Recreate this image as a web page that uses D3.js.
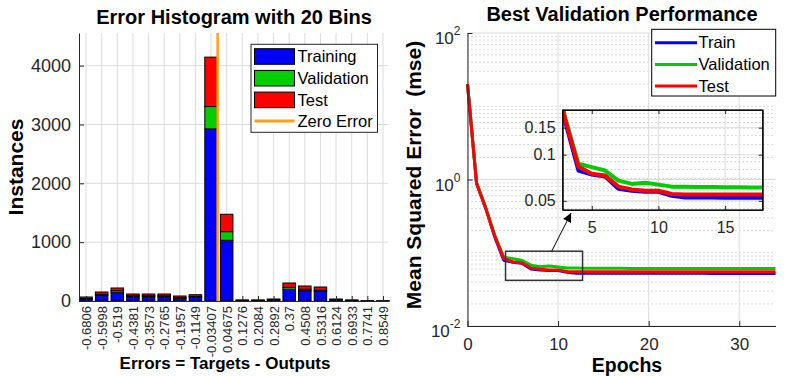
<!DOCTYPE html>
<html>
<head>
<meta charset="utf-8">
<script src="https://cdn.jsdelivr.net/npm/d3@7/dist/d3.min.js"></script>
<style>
  body { margin: 0; background: #fff; }
  svg { display: block; font-family: "Liberation Sans", Arial, sans-serif; }
</style>
</head>
<body>
<svg id="chart" width="803" height="376"></svg>
<script>
// ─── Histogram data (20 bins, stacked Training / Validation / Test) ───
const binCenters = [-0.6806, -0.5998, -0.519, -0.4381, -0.3573, -0.2765, -0.1957, -0.1149, -0.03407, 0.04675,
                    0.1276, 0.2084, 0.2892, 0.37, 0.4508, 0.5316, 0.6124, 0.6933, 0.7741, 0.8549];
const binLabels = ['-0.6806', '-0.5998', '-0.519', '-0.4381', '-0.3573', '-0.2765', '-0.1957', '-0.1149', '-0.03407', '0.04675',
                   '0.1276', '0.2084', '0.2892', '0.37', '0.4508', '0.5316', '0.6124', '0.6933', '0.7741', '0.8549'];
const trainCounts = [30, 97, 141, 73, 73, 73, 46, 63, 2925, 1032, 10, 10, 20, 199, 175, 165, 20, 10, 3, 2];
const valCounts   = [13, 17, 34, 16, 16, 16, 13, 15, 380, 147, 3, 3, 5, 34, 25, 20, 5, 3, 0, 0];
const testCounts  = [25, 39, 46, 30, 30, 30, 26, 29, 840, 295, 4, 4, 9, 73, 55, 53, 9, 4, 1, 1];
const histXLim = [-0.717, 0.881];
const histYLim = [0, 4555];
const histYTicks = [0, 1000, 2000, 3000, 4000];

// ─── Performance data (mse per epoch) ───
const epochs = [0, 1, 2, 3, 4, 5, 6, 7, 8, 9, 10, 11, 12, 13, 14, 15, 16, 17,
                18, 19, 20, 21, 22, 23, 24, 25, 26, 27, 28, 29, 30, 31, 32, 33, 34];
const trainPerf = [20, 0.89, 0.41, 0.165, 0.0788, 0.0742, 0.072, 0.060, 0.0582, 0.0573, 0.0573, 0.054, 0.0526, 0.0525, 0.0525, 0.0524, 0.0524, 0.0524,
                   0.0524, 0.0524, 0.0523, 0.0523, 0.0523, 0.0523, 0.0523, 0.0523, 0.0523, 0.0522, 0.0522, 0.0522, 0.0522, 0.0522, 0.0522, 0.0522, 0.0522];
const valPerf   = [20, 0.9, 0.42, 0.175, 0.0872, 0.0829, 0.0788, 0.0678, 0.0645, 0.0657, 0.0638, 0.0619, 0.0617, 0.0616, 0.0615, 0.0614, 0.0613, 0.0612,
                   0.0611, 0.0611, 0.061, 0.061, 0.061, 0.061, 0.061, 0.061, 0.061, 0.061, 0.061, 0.061, 0.061, 0.061, 0.061, 0.061, 0.061];
const testPerf  = [20, 0.88, 0.41, 0.17, 0.0838, 0.075, 0.0731, 0.0619, 0.0594, 0.0582, 0.0582, 0.0554, 0.0551, 0.055, 0.055, 0.055, 0.055, 0.055,
                   0.055, 0.055, 0.0549, 0.0549, 0.0549, 0.0549, 0.0549, 0.0549, 0.0549, 0.0549, 0.0549, 0.0549, 0.0549, 0.0549, 0.0549, 0.0549, 0.0549];
const perfXLim = [0, 34];
const perfYLim = [0.01, 100];
const perfXTicks = [0, 10, 20, 30];
const perfYMajor = [0.01, 1, 100];
const insetXLim = [2.82, 17.82];
const insetYLim = [0.0436, 0.1955];
const insetXTicks = [5, 10, 15];
const insetYTicks = [0.05, 0.1, 0.15];
const zoomBox = { x: [4.2, 12.7], y: [0.042, 0.105] };

const seriesNames = ['Training', 'Validation', 'Test'];
const perfNames = ['Train', 'Validation', 'Test'];
const colors = ['#0000ff', '#00cc00', '#ff0000'];
const ZERO_COLOR = '#ffa010';
const TICK = '#262626';
const GRID = '#dcdcdc';
const MINOR = '#b4b4b4';

const svg = d3.select('#chart');

function styleAxis(g, size) {
    g.select('.domain').attr('stroke', TICK).attr('stroke-width', 1);
    g.selectAll('.tick line').attr('stroke', TICK);
    g.selectAll('.tick text').attr('fill', TICK).style('font-size', size + 'px');
}

// ═══════════════ Left: Error histogram ═══════════════
const hx = d3.scaleLinear().domain(histXLim).range([79, 388]);
const hy = d3.scaleLinear().domain(histYLim).range([301, 33]);
const left = svg.append('g');

// grid
left.append('g').selectAll('line').data(binCenters).join('line')
    .attr('x1', d => hx(d)).attr('x2', d => hx(d))
    .attr('y1', hy.range()[1]).attr('y2', hy.range()[0])
    .attr('stroke', GRID);
left.append('g').selectAll('line').data(histYTicks).join('line')
    .attr('x1', hx.range()[0]).attr('x2', hx.range()[1])
    .attr('y1', d => hy(d)).attr('y2', d => hy(d))
    .attr('stroke', GRID);

// stacked bars
const rows = binCenters.map((c, i) => ({ center: c, train: trainCounts[i], val: valCounts[i], test: testCounts[i] }));
const stack = d3.stack().keys(['train', 'val', 'test'])(rows);
const binStep = binCenters[1] - binCenters[0];
const barW = hx(histXLim[0] + binStep * 0.8) - hx(histXLim[0]);

left.append('g').selectAll('g').data(stack).join('g')
    .attr('fill', (d, i) => colors[i])
    .selectAll('rect').data(d => d).join('rect')
    .attr('x', d => hx(d.data.center) - barW / 2)
    .attr('width', barW)
    .attr('y', d => hy(d[1]))
    .attr('height', d => hy(d[0]) - hy(d[1]))
    .attr('stroke', '#000')
    .attr('stroke-width', 1);

// zero error line
left.append('line')
    .attr('x1', hx(0)).attr('x2', hx(0))
    .attr('y1', hy.range()[1]).attr('y2', hy.range()[0])
    .attr('stroke', ZERO_COLOR).attr('stroke-width', 2.5);

// axes
left.append('g')
    .attr('transform', `translate(${hx.range()[0]},0)`)
    .call(d3.axisLeft(hy).tickValues(histYTicks).tickFormat(d3.format('d')).tickSizeInner(-5).tickSizeOuter(0).tickPadding(8))
    .call(g => styleAxis(g, 18));

const hxAxis = left.append('g')
    .attr('transform', `translate(0,${hy.range()[0]})`)
    .call(d3.axisBottom(hx).tickValues(binCenters).tickFormat((d, i) => binLabels[i]).tickSizeInner(-5).tickSizeOuter(0))
    .call(g => styleAxis(g, 13));
hxAxis.selectAll('.tick text')
    .attr('transform', 'rotate(-90)')
    .attr('text-anchor', 'end')
    .attr('x', -5).attr('y', 0).attr('dy', '0.35em');

// legend
const hLeg = left.append('g');
hLeg.append('rect')
    .attr('x', 251).attr('y', 44.3).attr('width', 126.5).attr('height', 88)
    .attr('fill', '#fff').attr('stroke', TICK);
seriesNames.forEach((name, i) => {
    const cy = 56.5 + i * 21.7;
    hLeg.append('rect')
        .attr('x', 254.5).attr('y', cy - 7.8).attr('width', 40).attr('height', 15.6)
        .attr('fill', colors[i]).attr('stroke', '#000');
    hLeg.append('text')
        .attr('x', 297.5).attr('y', cy).attr('dy', '0.35em')
        .style('font-size', '16.5px').text(name);
});
hLeg.append('line')
    .attr('x1', 254.5).attr('x2', 294.5).attr('y1', 121).attr('y2', 121)
    .attr('stroke', ZERO_COLOR).attr('stroke-width', 3);
hLeg.append('text')
    .attr('x', 297.5).attr('y', 121).attr('dy', '0.35em')
    .style('font-size', '16.5px').text('Zero Error');

// labels
left.append('text')
    .attr('x', 234).attr('y', 24).attr('text-anchor', 'middle')
    .style('font-size', '20px').style('font-weight', 'bold')
    .text('Error Histogram with 20 Bins');
left.append('text')
    .attr('x', 225).attr('y', 369).attr('text-anchor', 'middle')
    .style('font-size', '17px').style('font-weight', 'bold')
    .text('Errors = Targets - Outputs');
left.append('text')
    .attr('transform', 'translate(22.5,167) rotate(-90)')
    .attr('text-anchor', 'middle')
    .style('font-size', '21px').style('font-weight', 'bold')
    .text('Instances');

// ═══════════════ Right: performance ═══════════════
const mx = d3.scaleLinear().domain(perfXLim).range([467.5, 775.5]);
const my = d3.scaleLog().domain(perfYLim).range([326, 33]);
const right = svg.append('g');

// minor (dotted) grid
const minorY = my.ticks().filter(v => !perfYMajor.some(m => Math.abs(m - v) / m < 1e-6));
right.append('g').selectAll('line').data(minorY).join('line')
    .attr('x1', mx.range()[0]).attr('x2', mx.range()[1])
    .attr('y1', d => my(d)).attr('y2', d => my(d))
    .attr('stroke', MINOR).attr('stroke-dasharray', '1,3');
right.append('g').selectAll('line').data(perfYMajor).join('line')
    .attr('x1', mx.range()[0]).attr('x2', mx.range()[1])
    .attr('y1', d => my(d)).attr('y2', d => my(d))
    .attr('stroke', GRID);
right.append('g').selectAll('line').data(perfXTicks).join('line')
    .attr('x1', d => mx(d)).attr('x2', d => mx(d))
    .attr('y1', my.range()[1]).attr('y2', my.range()[0])
    .attr('stroke', GRID);

// series
const perfSeries = [trainPerf, valPerf, testPerf];
const mainLine = d3.line().x((d, i) => mx(epochs[i])).y(d => my(d));
right.append('g').selectAll('path').data(perfSeries).join('path')
    .attr('d', mainLine)
    .attr('fill', 'none')
    .attr('stroke', (d, i) => colors[i])
    .attr('stroke-width', 3)
    .attr('stroke-linejoin', 'round');

// axes
const myAxis = right.append('g')
    .attr('transform', `translate(${mx.range()[0]},0)`)
    .call(d3.axisLeft(my).tickValues(perfYMajor).tickSizeInner(-5).tickSizeOuter(0).tickPadding(7))
    .call(g => styleAxis(g, 17));
myAxis.selectAll('.tick text').each(function (d) {
    const t = d3.select(this).attr('dy', '0.62em').text('10');
    t.append('tspan')
        .attr('dy', -9)
        .style('font-size', '12px')
        .text(Math.round(Math.log10(d)));
});
right.append('g')
    .attr('transform', `translate(0,${my.range()[0]})`)
    .call(d3.axisBottom(mx).tickValues(perfXTicks).tickSizeInner(-5).tickSizeOuter(0).tickPadding(12))
    .call(g => styleAxis(g, 17));

// zoom rectangle + arrow
right.append('rect')
    .attr('x', mx(zoomBox.x[0])).attr('y', my(zoomBox.y[1]))
    .attr('width', mx(zoomBox.x[1]) - mx(zoomBox.x[0]))
    .attr('height', my(zoomBox.y[0]) - my(zoomBox.y[1]))
    .attr('fill', 'none').attr('stroke', '#333').attr('stroke-width', 1.5);

svg.append('defs').append('marker')
    .attr('id', 'arrowhead')
    .attr('viewBox', '0 0 10 10')
    .attr('refX', 10).attr('refY', 5)
    .attr('markerWidth', 9).attr('markerHeight', 9)
    .attr('markerUnits', 'userSpaceOnUse')
    .attr('orient', 'auto')
    .append('path').attr('d', 'M0,0 L10,5 L0,10 Z').attr('fill', '#000');

// ─── Inset ───
const ix = d3.scaleLinear().domain(insetXLim).range([562.7, 762.7]);
const iy = d3.scaleLog().domain(insetYLim).range([210, 110]);
const inset = svg.append('g');

right.append('line')
    .attr('x1', mx(9.3)).attr('y1', my(zoomBox.y[1]))
    .attr('x2', ix(3.45)).attr('y2', iy.range()[0] + 3)
    .attr('stroke', '#000').attr('stroke-width', 1)
    .attr('marker-end', 'url(#arrowhead)');

svg.select('defs').append('clipPath').attr('id', 'insetClip')
    .append('rect')
    .attr('x', ix.range()[0]).attr('y', iy.range()[1])
    .attr('width', ix.range()[1] - ix.range()[0])
    .attr('height', iy.range()[0] - iy.range()[1]);

const insetMinor = iy.ticks().filter(v => !insetYTicks.some(m => Math.abs(m - v) < 1e-9));
inset.append('g').selectAll('line').data(insetMinor).join('line')
    .attr('x1', ix.range()[0]).attr('x2', ix.range()[1])
    .attr('y1', d => iy(d)).attr('y2', d => iy(d))
    .attr('stroke', MINOR).attr('stroke-dasharray', '1,3');
inset.append('g').selectAll('line').data(insetYTicks).join('line')
    .attr('x1', ix.range()[0]).attr('x2', ix.range()[1])
    .attr('y1', d => iy(d)).attr('y2', d => iy(d))
    .attr('stroke', GRID);
inset.append('g').selectAll('line').data(insetXTicks).join('line')
    .attr('x1', d => ix(d)).attr('x2', d => ix(d))
    .attr('y1', iy.range()[1]).attr('y2', iy.range()[0])
    .attr('stroke', GRID);

const insetLine = d3.line().x((d, i) => ix(epochs[i])).y(d => iy(d));
inset.append('g').attr('clip-path', 'url(#insetClip)')
    .selectAll('path').data(perfSeries).join('path')
    .attr('d', insetLine)
    .attr('fill', 'none')
    .attr('stroke', (d, i) => colors[i])
    .attr('stroke-width', 4)
    .attr('stroke-linejoin', 'round');

inset.append('g')
    .attr('transform', `translate(${ix.range()[0]},0)`)
    .call(d3.axisLeft(iy).tickValues(insetYTicks).tickFormat(d3.format('')).tickSizeInner(-4).tickSizeOuter(0).tickPadding(7))
    .call(g => styleAxis(g, 16));
inset.append('g')
    .attr('transform', `translate(${ix.range()[1]},0)`)
    .call(d3.axisRight(iy).tickValues(insetYTicks).tickFormat('').tickSizeInner(-4).tickSizeOuter(0))
    .call(g => styleAxis(g, 16));
inset.append('g')
    .attr('transform', `translate(0,${iy.range()[0]})`)
    .call(d3.axisBottom(ix).tickValues(insetXTicks).tickSizeInner(-4).tickSizeOuter(0).tickPadding(12))
    .call(g => styleAxis(g, 16));
inset.append('g')
    .attr('transform', `translate(0,${iy.range()[1]})`)
    .call(d3.axisTop(ix).tickValues(insetXTicks).tickFormat('').tickSizeInner(-4).tickSizeOuter(0))
    .call(g => styleAxis(g, 16));
inset.append('rect')
    .attr('x', ix.range()[0]).attr('y', iy.range()[1])
    .attr('width', ix.range()[1] - ix.range()[0])
    .attr('height', iy.range()[0] - iy.range()[1])
    .attr('fill', 'none').attr('stroke', '#000').attr('stroke-width', 1.2);

// legend
const pLeg = right.append('g');
pLeg.append('rect')
    .attr('x', 651.7).attr('y', 29.3).attr('width', 124).attr('height', 66.7)
    .attr('fill', '#fff').attr('stroke', '#000');
perfNames.forEach((name, i) => {
    const cy = 42.7 + i * 21.7;
    pLeg.append('line')
        .attr('x1', 655).attr('x2', 697).attr('y1', cy).attr('y2', cy)
        .attr('stroke', colors[i]).attr('stroke-width', 3);
    pLeg.append('text')
        .attr('x', 698.5).attr('y', cy).attr('dy', '0.35em')
        .style('font-size', '16.5px').text(name);
});

// labels
right.append('text')
    .attr('x', 622).attr('y', 21).attr('text-anchor', 'middle')
    .style('font-size', '20px').style('font-weight', 'bold')
    .text('Best Validation Performance');
right.append('text')
    .attr('x', 627).attr('y', 371.5).attr('text-anchor', 'middle')
    .style('font-size', '19.5px').style('font-weight', 'bold')
    .text('Epochs');
right.append('text')
    .attr('transform', 'translate(421,175) rotate(-90)')
    .attr('text-anchor', 'middle')
    .style('font-size', '21px').style('font-weight', 'bold')
    .style('white-space', 'pre')
    .text('Mean Squared Error  (mse)');
</script>
</body>
</html>
